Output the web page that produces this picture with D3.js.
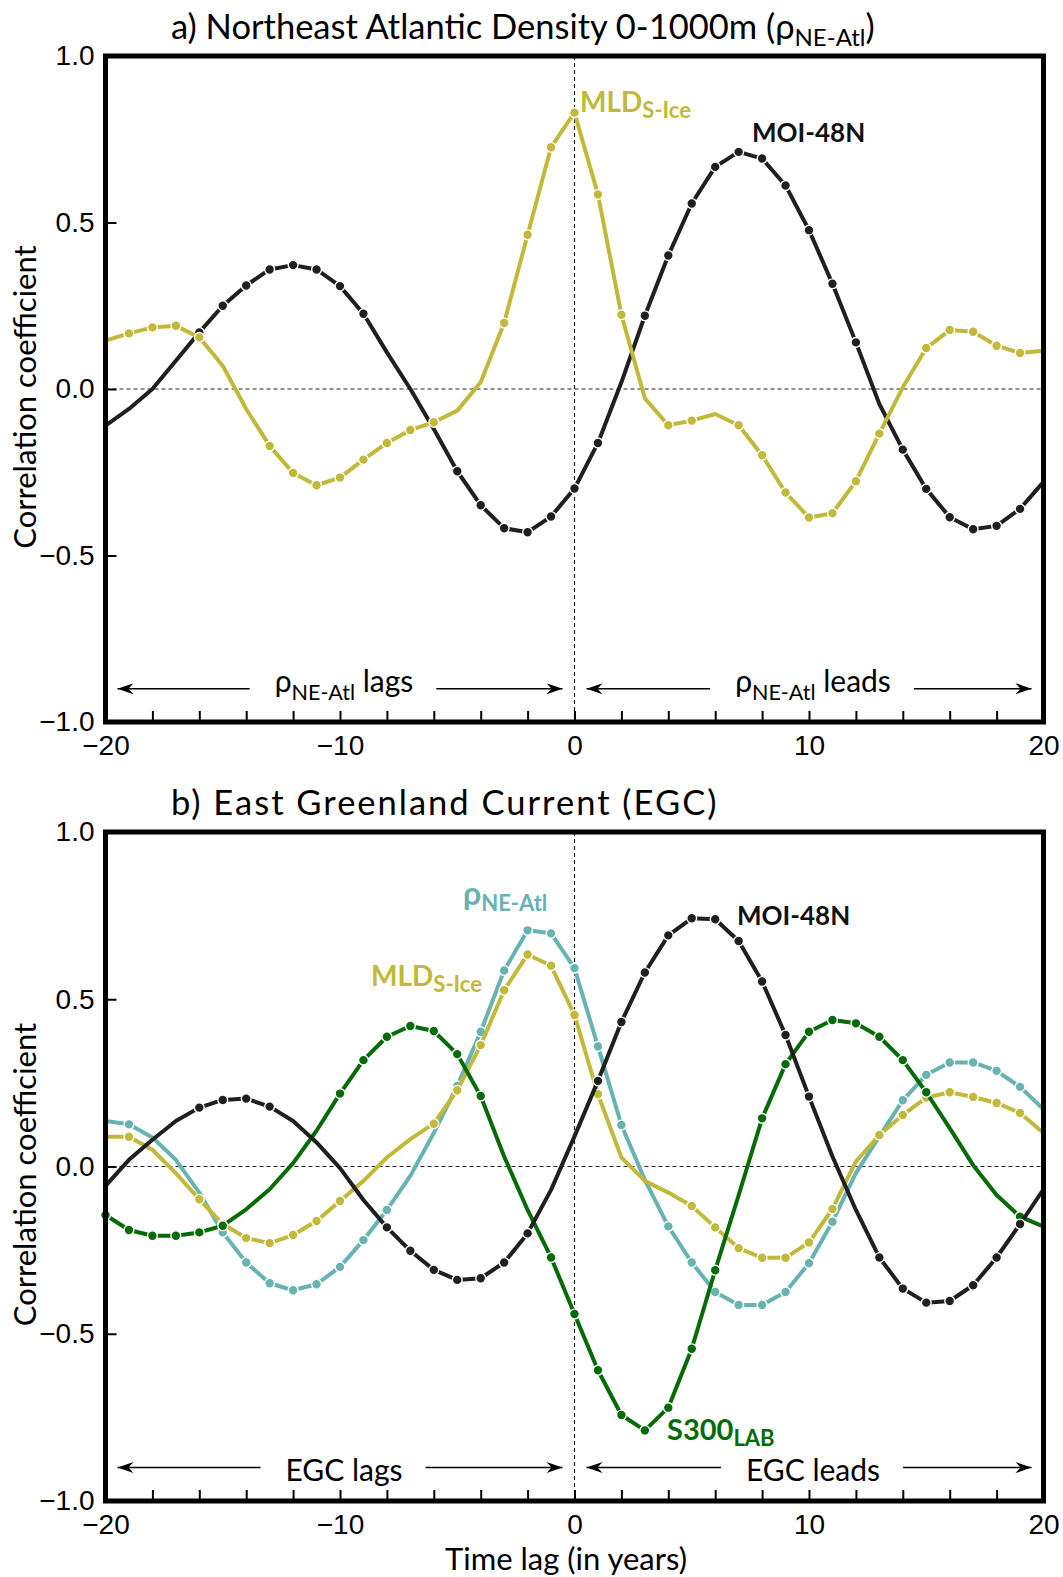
<!DOCTYPE html>
<html>
<head>
<meta charset="UTF-8">
<title>Lagged correlations</title>
<script src="https://d3js.org/d3.v7.min.js"></script>
<style>
	body { margin: 0; background: #fff; }
	svg { font-family: Lato, "Open Sans", sans-serif; }
	.frame { fill: none; stroke: #000; stroke-width: 5; }
	.axis .tick line { stroke: #000; stroke-width: 2; }
	.axis .domain { display: none; }
	.axis text { font-size: 28px; fill: #000; }
	.zero { stroke: #222; stroke-width: 1.2; stroke-dasharray: 4,3; fill: none; }
	.arrow { stroke: #000; stroke-width: 1.5; }
</style>
</head>
<body>
<svg id="chart" width="1063" height="1577"></svg>
<script>
// lags in years, -20 .. 20
var lags = d3.range(-20, 21);

// panel a) NE Atlantic density vs ...
var moiA = [-0.11,-0.06,0.00,0.085,0.17,0.25,0.311,0.359,0.372,0.359,0.309,0.226,0.11,0.0,-0.12,-0.247,-0.349,-0.418,-0.43,-0.383,-0.299,-0.162,0.02,0.22,0.401,0.557,0.667,0.712,0.692,0.611,0.477,0.316,0.14,-0.045,-0.182,-0.30,-0.385,-0.421,-0.411,-0.36,-0.279];
var mldA = [0.145,0.167,0.185,0.19,0.155,0.07,-0.06,-0.171,-0.252,-0.289,-0.266,-0.212,-0.162,-0.123,-0.10,-0.065,0.02,0.198,0.463,0.726,0.83,0.584,0.223,-0.028,-0.109,-0.095,-0.075,-0.109,-0.199,-0.311,-0.386,-0.373,-0.277,-0.134,0.005,0.123,0.177,0.172,0.13,0.108,0.115];
// significant lags (1 = marker drawn)
var moiASig = [0,0,0,0,1,1,1,1,1,1,1,1,0,0,0,1,1,1,1,1,1,1,0,1,1,1,1,1,1,1,1,1,1,0,1,1,1,1,1,1,0];
var mldASig = [0,1,1,1,1,0,0,1,1,1,1,1,1,1,1,0,0,1,1,1,1,1,1,0,1,1,0,1,1,1,1,1,1,1,0,1,1,1,1,1,0];

// panel b) East Greenland Current vs ...
var moiB = [-0.058,0.02,0.08,0.136,0.176,0.199,0.203,0.179,0.136,0.072,-0.005,-0.10,-0.182,-0.252,-0.309,-0.339,-0.334,-0.287,-0.2,-0.07,0.09,0.256,0.432,0.58,0.691,0.742,0.739,0.674,0.553,0.393,0.209,0.03,-0.13,-0.272,-0.365,-0.407,-0.402,-0.355,-0.272,-0.172,-0.068];
var rhoB = [0.136,0.126,0.087,0.02,-0.078,-0.197,-0.287,-0.349,-0.37,-0.352,-0.3,-0.22,-0.13,-0.028,0.10,0.241,0.403,0.586,0.706,0.697,0.593,0.359,0.124,-0.04,-0.179,-0.287,-0.375,-0.414,-0.414,-0.375,-0.289,-0.165,-0.02,0.09,0.198,0.274,0.311,0.311,0.286,0.238,0.171];
var mldB = [0.089,0.089,0.05,-0.02,-0.098,-0.172,-0.214,-0.229,-0.205,-0.163,-0.103,-0.043,0.027,0.082,0.128,0.228,0.363,0.527,0.634,0.6,0.453,0.216,0.027,-0.043,-0.078,-0.118,-0.182,-0.244,-0.273,-0.273,-0.227,-0.127,0.015,0.094,0.154,0.206,0.222,0.208,0.19,0.16,0.10];
var s300B = [-0.145,-0.19,-0.207,-0.207,-0.197,-0.177,-0.128,-0.068,0.01,0.107,0.218,0.318,0.388,0.42,0.405,0.336,0.211,0.03,-0.13,-0.272,-0.441,-0.609,-0.743,-0.789,-0.721,-0.545,-0.31,-0.086,0.144,0.306,0.403,0.438,0.428,0.388,0.318,0.222,0.115,0.004,-0.085,-0.15,-0.18];
var moiBSig = [0,0,0,0,1,1,1,1,0,0,0,0,1,1,1,1,1,1,1,0,0,1,1,1,1,1,1,1,1,1,1,0,0,1,1,1,1,1,1,1,0];
var rhoBSig = [0,1,0,0,0,1,1,1,1,1,1,1,1,0,0,1,1,1,1,1,1,1,1,0,1,1,1,1,1,1,1,1,0,0,1,1,1,1,1,1,0];
var mldBSig = [0,1,0,0,1,1,1,1,1,1,1,0,0,0,1,1,1,1,1,1,1,1,0,0,0,1,1,1,1,1,1,1,0,1,1,1,1,1,1,1,0];
var s300BSig = [1,1,1,1,1,1,0,0,0,0,1,1,1,1,1,1,1,0,0,1,1,1,1,1,1,1,1,0,1,1,1,1,1,1,1,1,0,0,0,1,0];

var xLabels = [-20, -10, 0, 10, 20];
var xMinor = [-18,-16,-14,-12,-10,-8,-6,-4,-2,0,2,4,6,8,10,12,14,16,18];
var yLabels = [-1, -0.5, 0, 0.5, 1];

var colors = { moi: "#1f1f1f", mld: "#c2b93a", rho: "#67b3b1", s300: "#066b06" };

//------------------------------------------------------------------
var svg = d3.select("#chart");

svg.append("defs").append("marker")
	.attr("id", "head")
	.attr("viewBox", "-17 -6 18 12")
	.attr("refX", 0).attr("refY", 0)
	.attr("markerWidth", 18).attr("markerHeight", 12)
	.attr("markerUnits", "userSpaceOnUse")
	.attr("orient", "auto")
	.append("path")
	.attr("d", "M0,0 L-16,-5.5 L-11,0 L-16,5.5 Z")
	.attr("fill", "#000");

var x = d3.scaleLinear().domain([-20, 20]).range([105.5, 1043.5]);

function zip(vals, sig) {
	return lags.map(function(l, i) { return { lag: l, r: vals[i], sig: sig[i] }; });
}

function subText(sel, main, sub, size, subSize) {
	sel.append("tspan").text(main);
	sel.append("tspan").attr("font-size", subSize).attr("dy", 6).text(sub);
}

function panel(opt) {
	var y = d3.scaleLinear().domain([-1, 1]).range([opt.bottom, opt.top]);
	var g = svg.append("g");

	// title
	var t = g.append("text").attr("x", 171).attr("y", opt.top - 17)
		.attr("font-size", 34.5)
		.attr("letter-spacing", opt.titleSpacing || 0);
	t.append("tspan").text(opt.title);
	if (opt.titleSub) {
		t.append("tspan").attr("font-size", 24).attr("dy", 7).text(opt.titleSub);
		t.append("tspan").attr("dy", -7).text(")");
	}

	// dashed zero lines
	g.append("line").attr("class", "zero")
		.attr("x1", x(-20)).attr("x2", x(20)).attr("y1", y(0)).attr("y2", y(0));
	g.append("line").attr("class", "zero")
		.attr("x1", x(0)).attr("x2", x(0)).attr("y1", y(1)).attr("y2", y(-1));

	// series
	var line = d3.line().x(function(d) { return x(d.lag); }).y(function(d) { return y(d.r); });
	opt.series.forEach(function(s) {
		var data = zip(s.vals, s.sig);
		g.append("path").datum(data)
			.attr("d", line)
			.attr("fill", "none")
			.attr("stroke", s.color)
			.attr("stroke-width", 4)
			.attr("stroke-linejoin", "round");
		g.append("g").selectAll("circle")
			.data(data.filter(function(d) { return d.sig; }))
			.enter().append("circle")
			.attr("cx", function(d) { return x(d.lag); })
			.attr("cy", function(d) { return y(d.r); })
			.attr("r", 4.9)
			.attr("fill", s.color)
			.attr("stroke", "#fff")
			.attr("stroke-width", 1.4);
	});

	// axes
	g.append("g").attr("class", "axis")
		.attr("transform", "translate(0," + opt.bottom + ")")
		.call(d3.axisBottom(x).tickValues(xMinor).tickSize(-11).tickFormat(""));
	g.append("g").attr("class", "axis")
		.attr("transform", "translate(0," + opt.bottom + ")")
		.call(d3.axisBottom(x).tickValues(xLabels).tickSize(0).tickPadding(13).tickFormat(d3.format("d")));
	g.append("g").attr("class", "axis")
		.attr("transform", "translate(" + x(-20) + ",0)")
		.call(d3.axisLeft(y).tickValues([-0.5, 0, 0.5]).tickSize(-11).tickFormat(""));
	g.append("g").attr("class", "axis")
		.attr("transform", "translate(" + x(-20) + ",0)")
		.call(d3.axisLeft(y).tickValues(yLabels).tickSize(0).tickPadding(11).tickFormat(d3.format(".1f")));

	g.append("rect").attr("class", "frame")
		.attr("x", x(-20)).attr("y", opt.top)
		.attr("width", x(20) - x(-20)).attr("height", opt.bottom - opt.top);

	// y axis title
	g.append("text")
		.attr("transform", "translate(36," + ((opt.top + opt.bottom) / 2 + 8) + ") rotate(-90)")
		.attr("text-anchor", "middle")
		.attr("font-size", 31)
		.text("Correlation coefficient");

	// lags / leads arrows
	var ay = y(-0.9);
	[[-20, 0, opt.lagText], [0, 20, opt.leadText]].forEach(function(a) {
		var cx = (x(a[0]) + x(a[1])) / 2 + 4;
		var lt = g.append("text").attr("x", cx).attr("y", ay + a[2].dy)
			.attr("text-anchor", "middle").attr("font-size", 30);
		if (a[2].sub) {
			lt.append("tspan").text(a[2].pre);
			lt.append("tspan").attr("font-size", 21.5).attr("dy", 8).text(a[2].sub);
			lt.append("tspan").attr("dy", -8).text(" " + a[2].post);
		} else {
			lt.text(a[2].post);
		}
		var bb = lt.node().getBBox();
		g.append("line").attr("class", "arrow")
			.attr("x1", bb.x - 25).attr("x2", x(a[0]) + 12)
			.attr("y1", ay).attr("y2", ay).attr("marker-end", "url(#head)");
		g.append("line").attr("class", "arrow")
			.attr("x1", bb.x + bb.width + 23).attr("x2", x(a[1]) - 12)
			.attr("y1", ay).attr("y2", ay).attr("marker-end", "url(#head)");
	});

	// series labels
	opt.labels.forEach(function(l) {
		var lt = g.append("text").attr("x", l.x).attr("y", l.y)
			.attr("font-size", l.size).attr("font-weight", "bold").attr("fill", l.color);
		if (l.sub) subText(lt, l.main, l.sub, l.size, l.subSize); else lt.text(l.main);
	});
	return g;
}

//==================================================================
panel({
	top: 56, bottom: 722,
	title: "a) Northeast Atlantic Density 0-1000m (\u03C1", titleSub: "NE-Atl",
	series: [
		{ vals: moiA, sig: moiASig, color: colors.moi },
		{ vals: mldA, sig: mldASig, color: colors.mld }
	],
	lagText: { pre: "\u03C1", sub: "NE-Atl", post: "lags", dy: 3 },
	leadText: { pre: "\u03C1", sub: "NE-Atl", post: "leads", dy: 3 },
	labels: [
		{ x: 580, y: 112, main: "MLD", sub: "S-Ice", size: 28, subSize: 22, color: colors.mld },
		{ x: 752, y: 142, main: "MOI-48N", size: 26, color: "#111" }
	]
});

panel({
	top: 832, bottom: 1501,
	title: "b) East Greenland Current (EGC)", titleSpacing: 2,
	series: [
		{ vals: rhoB, sig: rhoBSig, color: colors.rho },
		{ vals: mldB, sig: mldBSig, color: colors.mld },
		{ vals: s300B, sig: s300BSig, color: colors.s300 },
		{ vals: moiB, sig: moiBSig, color: colors.moi }
	],
	lagText: { post: "EGC lags", dy: 13 },
	leadText: { post: "EGC leads", dy: 13 },
	labels: [
		{ x: 463, y: 905, main: "\u03C1", sub: "NE-Atl", size: 32, subSize: 22, color: colors.rho },
		{ x: 371, y: 986, main: "MLD", sub: "S-Ice", size: 28, subSize: 22, color: colors.mld },
		{ x: 737, y: 925, main: "MOI-48N", size: 26, color: "#111" },
		{ x: 667, y: 1440, main: "S300", sub: "LAB", size: 29, subSize: 22, color: colors.s300 }
	]
});

// x axis title
svg.append("text")
	.attr("x", 566).attr("y", 1570)
	.attr("text-anchor", "middle")
	.attr("font-size", 31)
	.text("Time lag (in years)");
</script>
</body>
</html>
